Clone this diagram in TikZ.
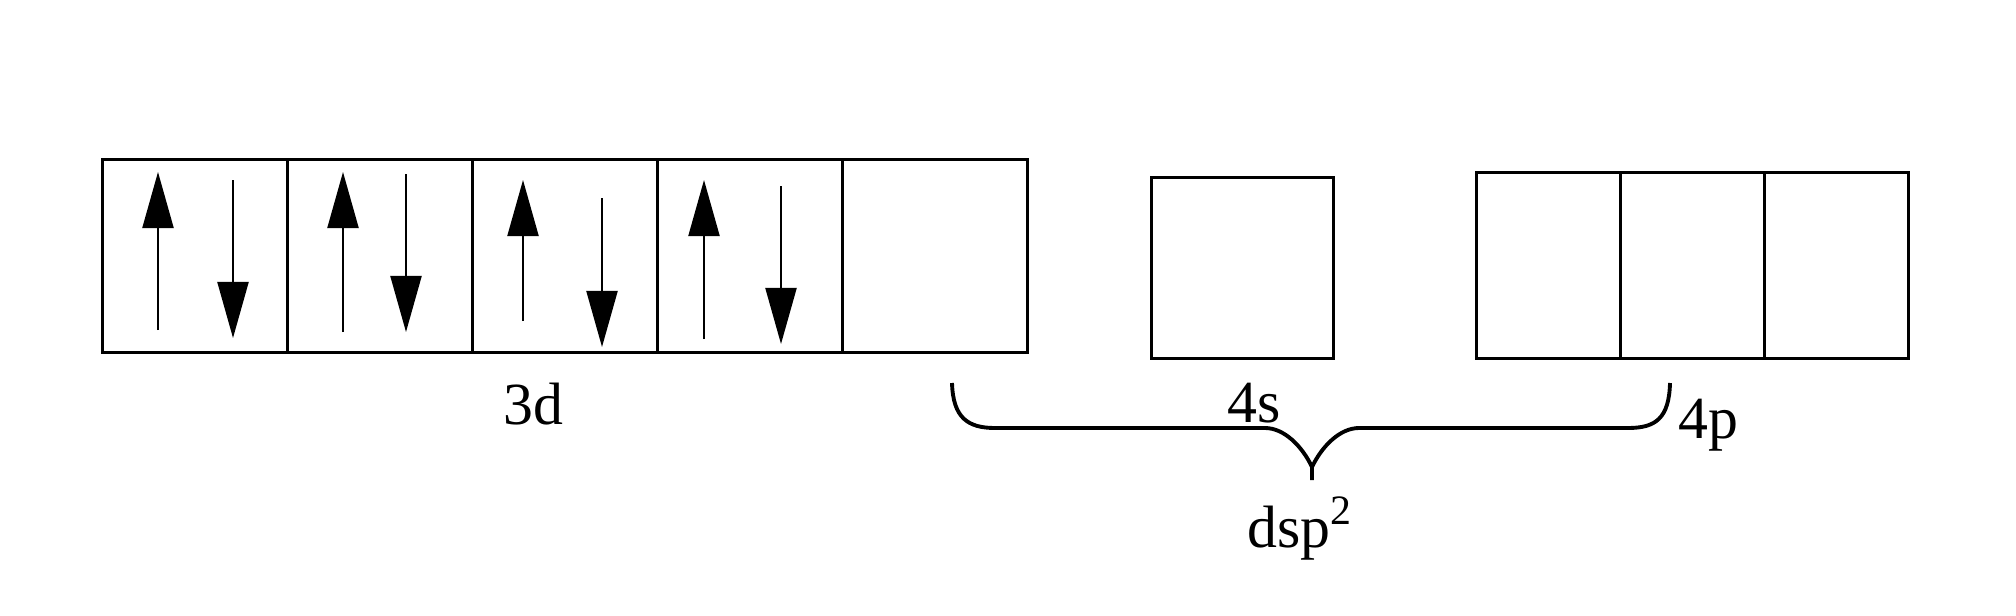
\documentclass[tikz,border=0pt]{standalone}
\usepackage{fontspec}
\setmainfont{Liberation Serif}
\usetikzlibrary{arrows.meta}

\tikzset{
  orb/.style={draw, line width=0.85pt, inner sep=0pt, outer sep=0pt},
  spin/.style={line width=0.6pt, -{Triangle[length=0.56cm, width=0.31cm]}},
  lbl/.style={anchor=base, inner sep=0pt, font=\fontsize{17}{20}\selectfont}
}

\begin{document}
\begin{tikzpicture}[x=0.01cm, y=-0.01cm]
				\useasboundingbox (0,0) rectangle (2016,615);
				% 3d orbitals
				\foreach \i in {1,...,5}
				\node[orb, minimum width=1.848cm, minimum height=1.92cm] (d\i) at (103+184.8*\i-92.4,256) {};
				% 4s orbital
				\node[orb, minimum width=1.81cm, minimum height=1.80cm] (s1) at (1242.5,268) {};
				% 4p orbitals
				\foreach \i in {1,2,3}
				\node[orb, minimum width=1.437cm, minimum height=1.85cm] (p\i) at (1477+143.7*\i-71.85,265.5) {};
				
				% Electron pairs
				\foreach \x/\a/\b in {158/330/172, 343/332/172, 523/321/180, 704/339/180}
				\draw[spin] (\x,\a) -- (\x,\b);
				\foreach \x/\a/\b in {233/180/338, 406/174/332, 602/198/347, 781/186/344}
				\draw[spin] (\x,\a) -- (\x,\b);
				
				% Brace for hybrid orbitals
				\draw[line width=1.1pt] (952,383) .. controls (953,418) and (968,428) .. (995,428)
				  -- (1265,428) .. controls (1284,428) and (1302,446) .. (1312,467) -- (1312,480);
				\draw[line width=1.1pt] (1312,467) .. controls (1322,446) and (1340,428) .. (1359,428)
				  -- (1628,428) .. controls (1656,428) and (1669,418) .. (1670,383);
				
				% Labels
				\node[lbl] (l3d) at (533,424) {3d};
				\node[lbl] (l4s) at (1254,422) {4s};
				\node[lbl] (l4p) at (1708,438) {4p};
				\node[lbl] (ldsp) at (1300,547) {dsp\textsuperscript{2}};
			\end{tikzpicture}
\end{document}
